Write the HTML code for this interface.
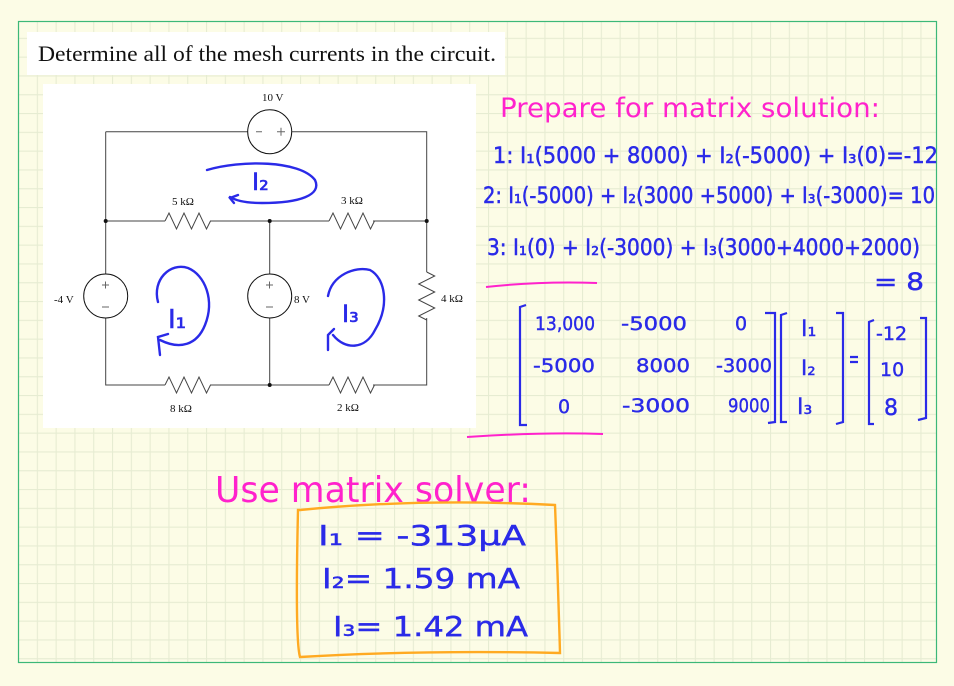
<!DOCTYPE html>
<html><head><meta charset="utf-8"><style>
html,body{margin:0;padding:0;background:#fdfde8;}
svg{display:block}
.hw{font-family:"DejaVu Sans","Liberation Sans",sans-serif;font-weight:normal}
</style></head><body>
<svg width="954" height="686" viewBox="0 0 954 686" xmlns="http://www.w3.org/2000/svg">
<defs>
<pattern id="g" x="18" y="19" width="18.8" height="18.8" patternUnits="userSpaceOnUse">
<path d="M0 0.5H18.8M0.5 0V18.8" stroke="#e6ecd2" stroke-width="1.2" fill="none"/>
</pattern>
</defs>
<rect width="954" height="686" fill="#fcfce6"/>
<rect x="18" y="21" width="918" height="641" fill="url(#g)"/>
<rect x="18.5" y="21.5" width="918" height="641" fill="none" stroke="#3cb878" stroke-width="1.2"/>

<rect x="27" y="32" width="478" height="43" fill="#fff"/>
<text x="38" y="61" font-family="Liberation Serif,serif" font-size="22" textLength="458" lengthAdjust="spacingAndGlyphs" fill="#111">Determine all of the mesh currents in the circuit.</text>

<rect x="43" y="84" width="433" height="344" fill="#fff"/>
<g stroke="#444" stroke-width="1" fill="none">
<path d="M105.7 131.7H248M291.7 131.7H426.7V272M426.7 318V385H373M329 385H269.7H210M165 385H105.7V318M105.7 274V131.7"/>
<path d="M105.7 221H165M210 221H329M373 221H426.7"/>
<path d="M269.7 221V274M269.7 318V385"/>
<path d="M165 221l4 -8l7.5 16l7.5 -16l7.5 16l7.5 -16l7.5 16l4 -8"/>
<path d="M329 221l4 -8l7.5 16l7.5 -16l7.5 16l7.5 -16l7.5 16l4 -8"/>
<path d="M165 385l4 -8l7.5 16l7.5 -16l7.5 16l7.5 -16l7.5 16l4 -8"/>
<path d="M329 385l4 -8l7.5 16l7.5 -16l7.5 16l7.5 -16l7.5 16l4 -8"/>
<path d="M426.7 272l8 4l-16 8l16 8l-16 8l16 8l-16 8l8 4"/>
</g>
<g stroke="#111" stroke-width="1" fill="#fff">
<circle cx="269.7" cy="131.7" r="22"/>
<circle cx="105.7" cy="296" r="22"/>
<circle cx="269.7" cy="296" r="22"/>
</g>
<g fill="#111"><circle cx="105.7" cy="221" r="2"/><circle cx="269.7" cy="221" r="2"/><circle cx="426.7" cy="221" r="2"/><circle cx="269.7" cy="385" r="2"/></g>
<g stroke="#666" stroke-width="1">
<path d="M256 131.7h6M277 131.7h8M281 127.7v8"/>
<path d="M102 285h7M105.5 281.5v7M102 307h7"/>
<path d="M266 285h7M269.5 281.5v7M266 307h7"/>
</g>
<g font-family="Liberation Serif,serif" font-size="11" fill="#111">
<text x="262" y="101">10 V</text>
<text x="172" y="205">5 kΩ</text>
<text x="341" y="204">3 kΩ</text>
<text x="54" y="303">-4 V</text>
<text x="294" y="303">8 V</text>
<text x="441" y="302">4 kΩ</text>
<text x="170" y="412">8 kΩ</text>
<text x="337" y="411">2 kΩ</text>
</g>

<g stroke="#2a2ae8" stroke-width="2.4" fill="none" stroke-linecap="round">
<path d="M207 170C240 160 300 160 315 180C322 195 300 203 262 203C245 203 235 200 230 197"/>
<path d="M238 195l-8 3l4 5"/>
<path d="M158 302C152 280 170 262 188 268C205 275 215 300 205 325C197 345 180 350 160 340"/>
<path d="M160 355l-2 -18l10 -3"/>
<path d="M328 296C332 275 355 266 370 270C385 278 390 305 375 330C365 350 345 350 333 335"/>
<path d="M328 350l0 -15l6 -6"/>
</g>
<g class="hw" fill="#2a2ae8" stroke="#2a2ae8" stroke-width="0.6">
<text x="252" y="190" font-size="24">I₂</text>
<text x="168" y="328" font-size="26">I₁</text>
<text x="342" y="322" font-size="24">I₃</text>
</g>

<text class="hw" x="500" y="117" font-size="27" fill="#ff22cc" textLength="380" lengthAdjust="spacingAndGlyphs">Prepare for matrix solution:</text>
<g class="hw" fill="#2a2ae8" stroke="#2a2ae8" stroke-width="0.5">
<text x="493" y="163" font-size="22" textLength="445" lengthAdjust="spacingAndGlyphs">1: I₁(5000 + 8000) + I₂(-5000) + I₃(0)=-12</text>
<text x="483" y="203" font-size="22" textLength="452" lengthAdjust="spacingAndGlyphs">2: I₁(-5000) + I₂(3000 +5000) + I₃(-3000)= 10</text>
<text x="487" y="255" font-size="22" textLength="433" lengthAdjust="spacingAndGlyphs">3: I₁(0) + I₂(-3000) + I₃(3000+4000+2000)</text>
<text x="874" y="290" font-size="24" textLength="50" lengthAdjust="spacingAndGlyphs">= 8</text>
</g>
<path d="M486 287Q540 281 597 283" stroke="#ff22cc" stroke-width="2" fill="none"/>

<g stroke="#2a2ae8" stroke-width="2.2" fill="none">
<path d="M526 305L520 307V425H527"/>
<path d="M765 313H775V422L768 423"/>
<path d="M787 313L781 315V422H787"/>
<path d="M836 313H843V422L836 424"/>
<path d="M874 320L869 322V424H874"/>
<path d="M920 318H926V418L918 420"/>
<path d="M850 357h8M850 362h8"/>
</g>
<g class="hw" fill="#2a2ae8" font-size="19" stroke="#2a2ae8" stroke-width="0.4">
<text x="535" y="330" textLength="60" lengthAdjust="spacingAndGlyphs">13,000</text>
<text x="621" y="330" textLength="66" lengthAdjust="spacingAndGlyphs">-5000</text>
<text x="735" y="330">0</text>
<text x="533" y="372" textLength="62" lengthAdjust="spacingAndGlyphs">-5000</text>
<text x="636" y="372" textLength="54" lengthAdjust="spacingAndGlyphs">8000</text>
<text x="716" y="372" textLength="56" lengthAdjust="spacingAndGlyphs">-3000</text>
<text x="558" y="413">0</text>
<text x="622" y="412" textLength="68" lengthAdjust="spacingAndGlyphs">-3000</text>
<text x="728" y="412" textLength="42" lengthAdjust="spacingAndGlyphs">9000</text>
<text x="801" y="336" font-size="22">I₁</text>
<text x="801" y="375" font-size="21">I₂</text>
<text x="797" y="414" font-size="22">I₃</text>
<text x="876" y="340">-12</text>
<text x="880" y="376">10</text>
<text x="884" y="415" font-size="22">8</text>
</g>
<path d="M467 437Q540 432 603 434" stroke="#ff22cc" stroke-width="2" fill="none"/>

<text class="hw" x="215" y="502" font-size="36" fill="#ff22cc" textLength="316" lengthAdjust="spacingAndGlyphs">Use matrix solver:</text>
<path d="M300 510Q420 498 555 505Q558 580 560 653Q420 650 300 657Q295 640 298 510Z" stroke="#ffaa22" stroke-width="2.4" fill="none"/>
<g class="hw" fill="#2a2ae8" font-size="28" stroke="#2a2ae8" stroke-width="0.4">
<text x="318" y="545" textLength="208" lengthAdjust="spacingAndGlyphs">I₁ =  -313μA</text>
<text x="322" y="588" textLength="198" lengthAdjust="spacingAndGlyphs">I₂=  1.59 mA</text>
<text x="333" y="636" textLength="195" lengthAdjust="spacingAndGlyphs">I₃=  1.42 mA</text>
</g>
</svg>
</body></html>
